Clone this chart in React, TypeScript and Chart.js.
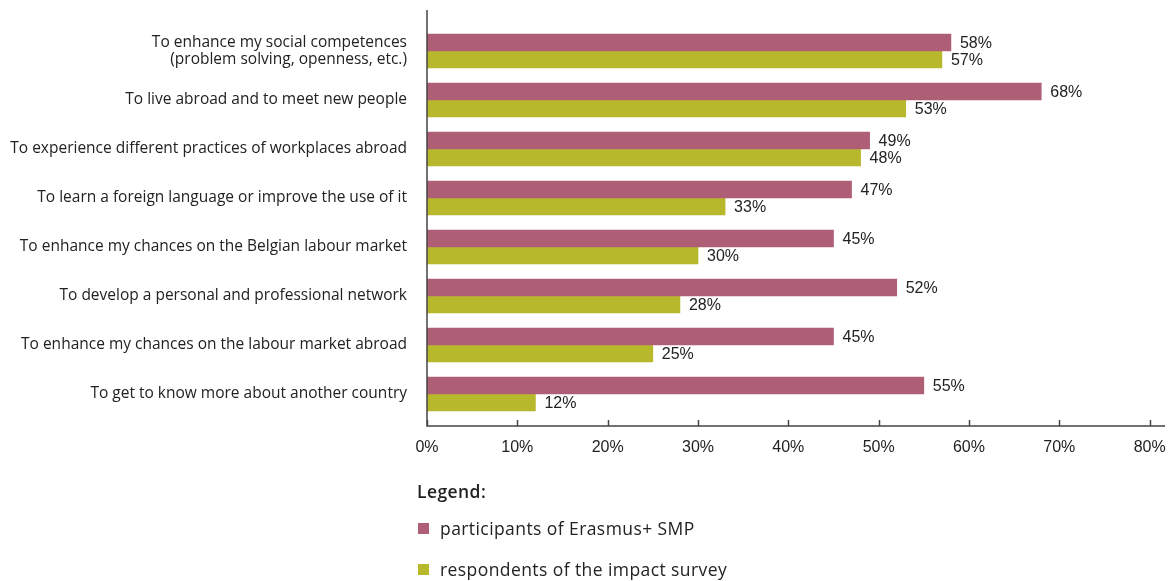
import React, { useEffect, useRef } from "react";
import { Chart, registerables } from "chart.js";

Chart.register(...registerables);

const categories: (string | string[])[] = [
  ["To enhance my social competences", "(problem solving, openness, etc.)"],
  "To live abroad and to meet new people",
  "To experience different practices of workplaces abroad",
  "To learn a foreign language or improve the use of it",
  "To enhance my chances on the Belgian labour market",
  "To develop a personal and professional network",
  "To enhance my chances on the labour market abroad",
  "To get to know more about another country",
];
const participants = [58, 68, 49, 47, 45, 52, 45, 55];
const respondents = [57, 53, 48, 33, 30, 28, 25, 12];
const tickValues = [0, 10, 20, 30, 40, 50, 60, 70, 80];
const seriesNames = ["participants of Erasmus+ SMP", "respondents of the impact survey"];
const colors = ["#AF5F75", "#B8B82C"];

const LABEL_FONT = "'Open Sans', Lato, sans-serif";
const NUM_FONT = "'Liberation Sans', Arial, sans-serif";

const overlay = {
  id: "overlay",
  afterDatasetsDraw(chart: any) {
    const ctx = chart.ctx;
    const area = chart.chartArea;
    const xs = chart.scales.x;
    ctx.save();
    ctx.fillStyle = "#222";
    ctx.font = `16px ${NUM_FONT}`;
    ctx.textAlign = "left";
    ctx.textBaseline = "middle";
    chart.data.datasets.forEach((ds: any, di: number) => {
      const meta = chart.getDatasetMeta(di);
      meta.data.forEach((bar: any, i: number) => {
        ctx.fillText(`${ds.data[i]}%`, bar.x + 9, bar.y + 1);
      });
    });
    ctx.strokeStyle = "#444";
    ctx.lineWidth = 1.5;
    const x0 = xs.getPixelForValue(0);
    const yAxisBottom = area.bottom + 7.5;
    ctx.beginPath();
    ctx.moveTo(x0, 10);
    ctx.lineTo(x0, yAxisBottom);
    ctx.lineTo(area.right, yAxisBottom);
    ctx.stroke();
    tickValues.forEach((v) => {
      const px = Math.round(xs.getPixelForValue(v)) + 0.5;
      ctx.beginPath();
      ctx.moveTo(px, yAxisBottom - 6);
      ctx.lineTo(px, yAxisBottom);
      ctx.stroke();
    });
    ctx.restore();
  },
};

export default function App() {
  const ref = useRef<HTMLCanvasElement>(null);
  useEffect(() => {
    if (!ref.current) return;
    const chart = new Chart(ref.current, {
      type: "bar",
      data: {
        labels: categories,
        datasets: [
          { label: seriesNames[0], data: participants, backgroundColor: colors[0], barThickness: 17 },
          { label: seriesNames[1], data: respondents, backgroundColor: colors[1], barThickness: 17 },
        ],
      },
      options: {
        indexAxis: "y",
        animation: false,
        responsive: false,
        maintainAspectRatio: false,
        layout: { padding: { left: 0, right: 10, top: 26.5, bottom: 0 } },
        plugins: { legend: { display: false }, tooltip: { enabled: false } },
        scales: {
          x: {
            min: 0,
            max: 81.7,
            afterBuildTicks: (scale: any) => {
              scale.ticks = tickValues.map((v) => ({ value: v }));
            },
            afterFit: (scale: any) => {
              scale.height = 162.5;
              scale.paddingLeft = 0;
              scale.paddingRight = 0;
            },
            border: { display: false },
            grid: { display: false, drawTicks: false },
            ticks: {
              padding: 19,
              color: "#222",
              font: { family: NUM_FONT, size: 16 },
              callback: (v: any) => `${v}%`,
              maxRotation: 0,
            },
          },
          y: {
            afterFit: (scale: any) => {
              scale.width = 427;
              scale.paddingTop = 0;
              scale.paddingBottom = 0;
            },
            border: { display: false },
            grid: { display: false, drawTicks: false },
            ticks: {
              padding: 20,
              color: "#222",
              font: { family: LABEL_FONT, size: 15.5, lineHeight: 1.12 },
            },
          },
        },
      },
      plugins: [overlay],
    });
    return () => chart.destroy();
  }, []);

  const legendText: React.CSSProperties = {
    position: "absolute",
    fontFamily: LABEL_FONT,
    fontSize: 17.5,
    letterSpacing: 0.42,
    color: "#222",
    whiteSpace: "nowrap",
    lineHeight: "20px",
  };
  return (
    <div style={{ position: "absolute", left: 0, top: 0, width: 1175, height: 581, background: "#fff" }}>
      <canvas ref={ref} width={1175} height={581} style={{ position: "absolute", left: 0, top: 0 }} />
      <div style={{ ...legendText, left: 417, top: 481, fontWeight: 600 }}>Legend:</div>
      {seriesNames.map((n, i) => (
        <React.Fragment key={n}>
          <div
            style={{
              position: "absolute",
              left: 418,
              top: 523 + i * 41,
              width: 11,
              height: 11,
              background: colors[i],
            }}
          />
          <div style={{ ...legendText, left: 440, top: 518 + i * 41 }}>{n}</div>
        </React.Fragment>
      ))}
    </div>
  );
}
